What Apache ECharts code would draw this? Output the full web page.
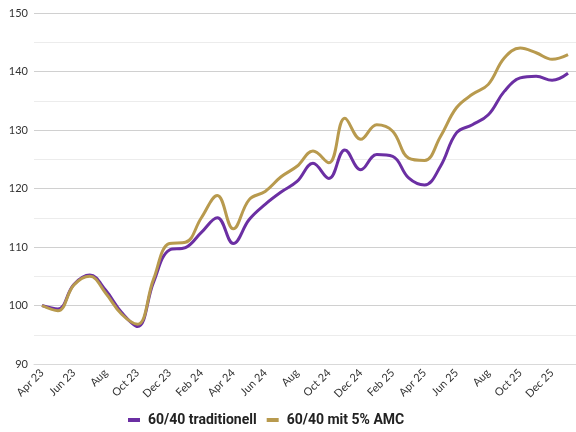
<!DOCTYPE html>
<html>
<head>
<meta charset="utf-8">
<script src="https://cdn.jsdelivr.net/npm/echarts@6/dist/echarts.min.js"></script>
<style>html,body{margin:0;padding:0;background:#fff;}#c{width:576px;height:432px;}</style>
</head>
<body>
<div id="c"></div>
<script>
var months = ["Apr 23","May 23","Jun 23","Jul 23","Aug","Sep 23","Oct 23","Nov 23","Dec 23","Jan 24","Feb 24","Mar 24","Apr 24","May 24","Jun 24","Jul 24","Aug","Sep 24","Oct 24","Nov 24","Dec 24","Jan 25","Feb 25","Mar 25","Apr 25","May 25","Jun 25","Jul 25","Aug","Sep 25","Oct 25","Nov 25","Dec 25","Jan 26"];
var traditionell = [100.0,99.4,103.6,105.2,102.6,98.8,96.4,104.0,109.5,109.9,112.5,115.0,110.6,114.7,117.3,119.4,121.2,124.3,121.7,126.6,123.2,125.8,125.5,121.8,120.6,123.8,129.5,130.9,132.6,136.6,138.9,139.2,138.5,139.7];
var mitAMC = [100.0,99.1,103.5,105.0,102.1,98.5,96.8,104.5,110.6,110.8,115.0,118.8,113.1,118.1,119.5,122.0,123.8,126.4,124.4,132.0,128.4,130.9,129.8,125.2,124.8,128.9,133.8,136.1,137.8,142.3,144.0,143.2,142.1,142.9];
var seriesNames = ["60/40 traditionell","60/40 mit 5% AMC"];
var yTicks = {min:90, max:150, interval:10};

var chart = echarts.init(document.getElementById('c'), null, {renderer:'canvas'});
chart.setOption({
  animation:false,
  backgroundColor:'#ffffff',
  grid:{left:34, right:-6, top:13, bottom:68, containLabel:false},
  legend:{
    data:seriesNames, left:128, top:413, padding:0, icon:'rect', itemWidth:12, itemHeight:4, itemGap:10,
    textStyle:{fontFamily:'Roboto', fontWeight:'bold', fontSize:14, color:'#222', padding:[0,0,0,3]}
  },
  xAxis:{
    type:'category', data:months, boundaryGap:true,
    axisLine:{show:true, lineStyle:{color:'#d9d9d9', width:1}},
    axisTick:{show:false},
    axisLabel:{interval:1, rotate:45, margin:7, fontSize:11, color:'#333', fontFamily:'Lato'}
  },
  yAxis:{
    type:'value', min:yTicks.min, max:yTicks.max, interval:yTicks.interval,
    axisLine:{show:false}, axisTick:{show:false},
    axisLabel:{margin:6, fontSize:11, color:'#333', fontFamily:'Lato'},
    splitLine:{lineStyle:{color:'#d0d0d0', width:1}},
    minorTick:{show:false, splitNumber:2},
    minorSplitLine:{show:true, lineStyle:{color:'#ececec', width:1}}
  },
  series:[
    {name:seriesNames[0], type:'line', data:traditionell, smooth:0.4, showSymbol:false, symbol:'none',
     lineStyle:{color:'#6B2FA3', width:3}, itemStyle:{color:'#6B2FA3'}},
    {name:seriesNames[1], type:'line', data:mitAMC, smooth:0.4, showSymbol:false, symbol:'none',
     lineStyle:{color:'#B89A4E', width:3}, itemStyle:{color:'#B89A4E'}}
  ]
});
</script>
</body>
</html>
